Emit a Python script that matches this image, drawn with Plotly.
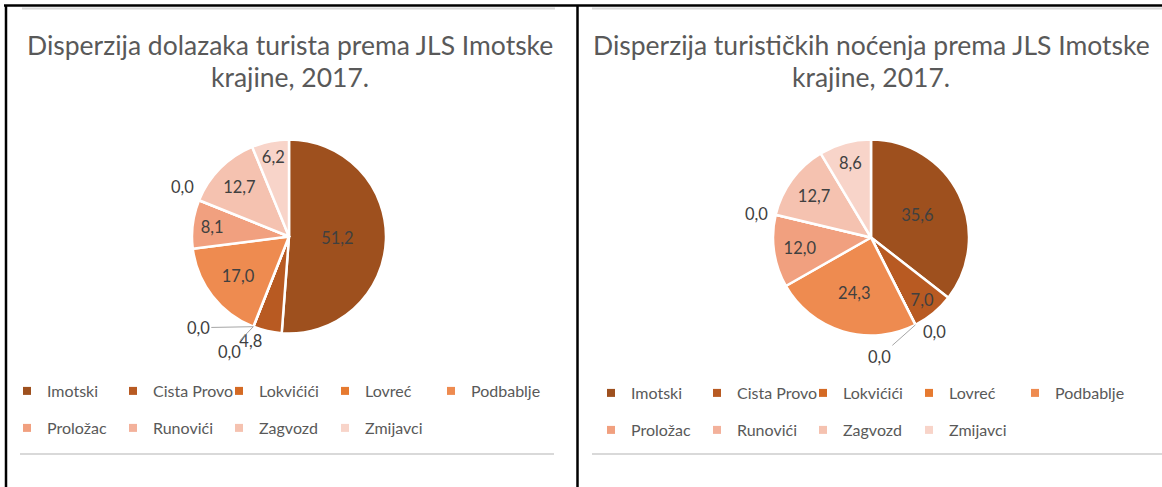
import math
import plotly.graph_objects as go

W, H = 1162, 487

# ---------------- data ----------------
categories = ["Imotski", "Cista Provo", "Lokvićići", "Lovreć", "Podbablje",
              "Proložac", "Runovići", "Zagvozd", "Zmijavci"]
arrivals = [51.2, 4.8, 0.0, 0.0, 17.0, 8.1, 0.0, 12.7, 6.2]
nights = [35.6, 7.0, 0.0, 0.0, 24.3, 12.0, 0.0, 12.7, 8.6]
title_left = ["Disperzija dolazaka turista prema JLS Imotske", "krajine, 2017."]
title_right = ["Disperzija turističkih noćenja prema JLS Imotske", "krajine, 2017."]

colors = ["#9E501E", "#B85A22", "#D46A24", "#E67A30", "#EE8B50",
          "#F1A07F", "#F3B19B", "#F5C2B0", "#F8D4C9"]

FONT = "Lato"
TXT = "#404040"
GREY = "#595959"


def px(x):
    return x / W


def py(y):
    return 1 - y / H


def fmt(v):
    return f"{v:.1f}".replace(".", ",")


# pie geometry (pixels): centre and radius
pies = [
    dict(vals=arrivals, cx=289, cy=236.5, r=97,
         pos=["inside", "outside", "inside", "inside", "inside", "inside", "inside", "inside", "inside"],
         zero_lab={2: (-55, 1, True), 3: (-24, 25, True), 6: (-17, -13, False)},
         title=title_left, tx=290),
    dict(vals=nights, cx=871, cy=237.5, r=98,
         pos=["inside"] * 9,
         zero_lab={2: (19, 7, False), 3: (-36, 32, True), 6: (-19, -1, False)},
         title=title_right, tx=871),
]

fig = go.Figure()
annotations = []

for p in pies:
    vals = p["vals"]
    fig.add_trace(go.Pie(
        labels=categories, values=vals,
        text=[fmt(v) if v > 0 else "" for v in vals],
        textinfo="text", textposition=p["pos"],
        insidetextorientation="horizontal",
        textfont=dict(family=FONT, size=16.5, color=TXT),
        marker=dict(colors=colors, line=dict(color="white", width=2.5)),
        sort=False, direction="clockwise", rotation=0,
        showlegend=False, hoverinfo="label+value",
        domain=dict(x=[px(p["cx"] - p["r"]), px(p["cx"] + p["r"])],
                    y=[py(p["cy"] + p["r"]), py(p["cy"] - p["r"])]),
    ))
    total = sum(vals)
    for i, v in enumerate(vals):
        if v != 0:
            continue
        cum = sum(vals[:i]) / total
        th = 2 * math.pi * cum
        ex = p["cx"] + p["r"] * math.sin(th)
        ey = p["cy"] - p["r"] * math.cos(th)
        dx, dy, arrow = p["zero_lab"][i]
        if arrow:
            annotations.append(dict(
                x=px(ex), y=py(ey), xref="paper", yref="paper", text=fmt(v),
                showarrow=True, ax=dx, ay=dy, arrowhead=0, arrowwidth=1,
                arrowcolor="#A6A6A6", standoff=0,
                font=dict(family=FONT, size=16.5, color=TXT)))
        else:
            annotations.append(dict(
                x=px(ex), y=py(ey), xref="paper", yref="paper", text=fmt(v),
                showarrow=False, xshift=dx, yshift=-dy,
                xanchor="center", yanchor="middle",
                font=dict(family=FONT, size=16.5, color=TXT)))
    for line, ty in zip(p["title"], (45, 77)):
        annotations.append(dict(
            x=px(p["tx"]), y=py(ty), xref="paper", yref="paper", text=line,
            showarrow=False, xanchor="center", yanchor="middle",
            font=dict(family=FONT, size=26.5, color=GREY)))

# legends (two rows per panel) built from categories / colours
legend_rows = [("legend", 0, 5), ("legend2", 5, 9), ("legend3", 0, 5), ("legend4", 5, 9)]
for name, a, b in legend_rows:
    for i in range(a, b):
        fig.add_trace(go.Scatter(
            x=[None], y=[None], mode="markers", name=categories[i],
            marker=dict(symbol="square", size=8, color=colors[i]),
            legend=name, showlegend=True, hoverinfo="skip",
            legendwidth=61 if i != b - 1 else 95))

leg_common = dict(orientation="h", xanchor="left", yanchor="middle",
                  entrywidth=61, entrywidthmode="pixels",
                  bgcolor="rgba(0,0,0,0)", borderwidth=0,
                  font=dict(family=FONT, size=16, color=GREY))
legend_pos = {"legend": (7, 391), "legend2": (7, 428),
              "legend3": (591, 393), "legend4": (591, 430)}

layout_legends = {k: dict(leg_common, x=px(x), y=py(y)) for k, (x, y) in legend_pos.items()}

# frame lines
shapes = []
def hline(x0, x1, y, color, w):
    shapes.append(dict(type="line", xref="paper", yref="paper",
                       x0=px(x0), x1=px(x1), y0=py(y), y1=py(y),
                       line=dict(color=color, width=w)))
def vline(x, y0, y1, color, w):
    shapes.append(dict(type="line", xref="paper", yref="paper",
                       x0=px(x), x1=px(x), y0=py(y0), y1=py(y1),
                       line=dict(color=color, width=w)))

hline(22, 555, 8.5, "#D9D9D9", 2)
hline(592, 1162, 8.5, "#D9D9D9", 2)
hline(20, 554, 454, "#D9D9D9", 2)
hline(592, 1162, 454, "#D9D9D9", 2)
hline(4, 1162, 5.5, "black", 2.5)
vline(6, 5, 487, "black", 2.5)
vline(577.5, 5, 487, "black", 2.5)

fig.update_layout(
    width=W, height=H,
    margin=dict(l=0, r=0, t=0, b=0),
    paper_bgcolor="white", plot_bgcolor="white",
    xaxis=dict(visible=False), yaxis=dict(visible=False),
    annotations=annotations, shapes=shapes,
    **layout_legends,
)

fig.write_html("out.html", config={"displayModeBar": False},
               post_script="document.body.style.margin='0';document.body.style.overflow='hidden';")
